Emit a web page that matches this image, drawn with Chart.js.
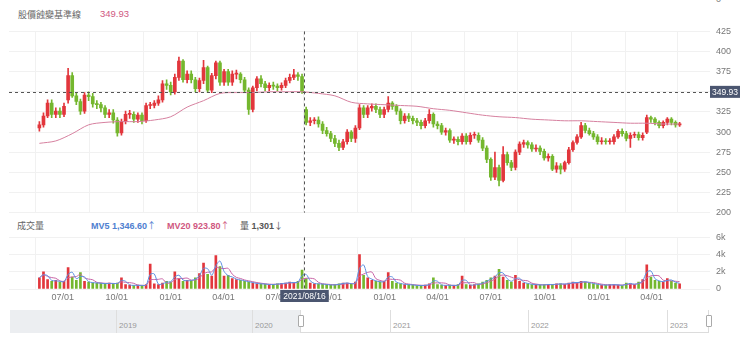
<!DOCTYPE html>
<html>
<head>
<meta charset="utf-8">
<script src="https://cdn.jsdelivr.net/npm/chart.js@4.4.1/dist/chart.umd.min.js"></script>
<style>
  body { margin: 0; background: #fff; font-family: "Liberation Sans", Arial, "Noto Sans CJK TC", sans-serif; }
  #wrap { position: relative; width: 740px; height: 348px; overflow: hidden; }
  .abs { position: absolute; white-space: nowrap; }
  canvas { position: absolute; left: 0; }
  .cjk { font-family: "Noto Sans CJK TC", sans-serif; }
</style>
</head>
<body>
<div id="wrap">
  <div class="abs cjk" style="left:18px;top:8px;font-size:9px;color:#666;">股價蝕變基準線</div>
  <div class="abs" style="left:100px;top:8px;font-size:9.5px;color:#d0587f;">349.93</div>
  <div class="abs" style="left:716px;top:-6px;font-size:9px;color:#777;">0</div>

  <div class="abs cjk" style="left:17px;top:219px;font-size:9px;color:#666;">成交量</div>
  <div class="abs" style="left:91px;top:219px;font-size:9px;color:#4f80d0;font-weight:bold;">MV5 1,346.60<span class="cjk" style="font-weight:normal">↑</span></div>
  <div class="abs" style="left:167px;top:219px;font-size:9px;color:#d0587f;font-weight:bold;">MV20 923.80<span class="cjk" style="font-weight:normal">↑</span></div>
  <div class="abs" style="left:240px;top:219px;font-size:9px;color:#555;font-weight:bold;"><span class="cjk" style="font-weight:normal">量</span> 1,301<span class="cjk" style="font-weight:normal">↓</span></div>

  <canvas id="priceChart" width="740" height="204" style="top:20px"></canvas>
  <canvas id="volChart" width="740" height="79" style="top:226px"></canvas>

  <div id="nav"></div>
</div>

<script>
// weekly candles, first week starting 2020-05-22
const startDate = '2020-05-22';
const opens = [
  305,309,320,336,322,326,322,340,370,345,
  338,326,346,344,335,334,330,322,324,315,
  299,313,322,322,316,321,314,333,333,336,
  340,360,358,350,368,388,365,372,365,354,
  364,380,352,370,386,362,375,362,372,372,
  365,352,328,355,366,360,355,358,357,355,
  358,364,368,371,369,328,312,314,315,310,
  302,298,292,286,281,288,300,292,305,330,
  322,330,332,328,322,328,336,332,326,314,
  320,317,314,312,308,314,322,310,308,300,
  302,290,291,288,295,288,296,296,290,280,
  266,244,256,240,272,262,256,275,285,287,
  284,279,280,276,268,270,254,258,254,262,
  278,287,294,308,302,298,294,288,289,288,
  288,294,301,298,292,296,297,293,300,318,
  316,312,308,312,316,312,309
];
const highs = [
  313,324,340,340,330,330,336,379,374,349,
  341,349,350,348,339,337,333,328,328,318,
  316,326,327,325,324,324,336,337,339,345,
  364,365,362,372,393,390,376,376,368,367,
  389,382,373,388,388,378,378,376,377,374,
  368,355,357,369,370,363,361,362,360,361,
  367,372,378,374,372,331,318,318,319,313,
  306,301,296,290,291,303,302,308,334,333,
  333,335,335,331,331,344,338,334,329,323,
  323,320,317,315,317,328,324,313,311,305,
  304,294,294,298,298,299,300,299,293,283,
  268,275,259,282,275,265,278,288,290,289,
  287,284,283,279,273,272,262,261,264,281,
  289,297,312,311,305,301,297,293,292,292,
  297,303,304,301,299,300,300,299,321,320,
  318,314,314,318,318,314,312
];
const lows = [
  301,306,318,318,318,318,319,336,343,334,
  322,323,339,331,329,325,318,318,311,295,
  296,310,317,312,312,310,312,329,330,333,
  337,353,346,347,364,362,361,361,350,350,
  360,349,349,366,358,358,358,358,366,361,
  349,322,325,351,356,351,351,353,351,352,
  355,361,365,364,348,309,308,310,306,298,
  295,288,282,277,278,285,288,287,303,318,
  318,326,324,318,318,325,328,322,310,311,
  313,310,308,304,305,311,306,304,297,296,
  287,286,284,285,285,285,292,287,277,262,
  240,241,233,238,259,252,253,272,281,280,
  276,276,272,265,264,252,250,248,251,260,
  276,285,292,299,296,291,285,285,285,285,
  285,292,295,289,281,293,290,290,298,312,
  309,305,305,309,309,306,307
];
const closes = [
  309,320,336,322,326,322,332,370,345,338,
  326,346,344,335,334,330,322,324,315,299,
  313,322,322,316,321,314,333,333,336,340,
  360,358,350,368,388,365,372,365,354,364,
  380,352,370,386,362,375,362,372,372,365,
  352,328,355,366,360,355,358,357,355,358,
  364,368,371,369,350,312,314,315,310,302,
  298,292,286,281,288,300,292,305,330,322,
  330,332,328,322,328,336,332,326,314,320,
  317,314,312,308,314,322,310,308,300,302,
  290,291,288,295,288,296,296,290,280,266,
  244,256,240,272,262,256,275,285,287,284,
  279,280,276,268,270,254,258,254,262,278,
  287,294,308,302,298,294,288,289,288,288,
  294,301,298,292,296,297,293,296,318,316,
  312,308,312,316,312,309,310
];
const volumes = [
  1300,2000,1100,900,1000,800,900,2500,1400,1000,
  1900,900,800,700,700,650,600,700,600,700,
  1300,500,450,400,450,400,500,2900,600,500,
  700,900,800,2000,1200,900,1000,1000,1300,1800,
  3000,1700,1500,3900,2600,1500,1600,1200,1100,1000,
  900,800,700,600,600,550,500,550,600,650,
  700,800,700,900,2200,1200,700,600,600,550,
  500,450,500,600,700,700,550,800,4000,1600,
  1300,1000,900,800,900,1900,900,700,600,500,
  500,450,400,400,450,600,1300,500,450,400,
  450,400,500,1500,500,450,500,600,800,1000,
  1300,1500,2300,1400,1000,800,1600,900,700,600,
  500,500,450,500,550,500,600,600,550,700,
  800,700,900,800,700,600,500,450,450,500,
  500,450,400,700,600,500,800,1100,2800,1400,
  1000,900,800,1200,900,700,600
];
// long moving average, one reading every 4 weeks
const maValues = [
  286,289,298,309,312,313,313,315,319,331,
  339,348,349,349,350,350,350,348,345,337,
  335,334,333,332,329,327,324,321,319,318,
  316,315,314,314,313,312,311,311,310,310
];
const tickDates = ['2020-07-01','2020-10-01','2021-01-01','2021-04-01','2021-07-01','2021-10-01',
                   '2022-01-01','2022-04-01','2022-07-01','2022-10-01','2023-01-01','2023-04-01'];
const priceTicks = [200, 225, 250, 275, 300, 325, 350, 375, 400, 425];
const volTicks = [0, 2000, 4000, 6000];
const crossDate = '2021-08-16';
const basePrice = 349.93;
const navYears = ['2019', '2020', '2021', '2022', '2023'];

const UP = '#e2363c', DOWN = '#74b72e';
const dayOf = d => (Date.parse(d) - Date.parse(startDate)) / 864e5;
const tickDays = tickDates.map(dayOf);
const crossDay = dayOf(crossDate);
const colors = closes.map((c, i) => c >= opens[i] ? UP : DOWN);

const movingAvg = (arr, n) => arr.map((v, i) => {
  const part = arr.slice(Math.max(0, i - n + 1), i + 1);
  return part.reduce((a, b) => a + b, 0) / part.length;
});

const xScale = (showLabels) => ({
  type: 'linear', min: -2, max: 1094,
  afterBuildTicks: s => { s.ticks = tickDays.map(v => ({ value: v })); },
  ticks: {
    display: showLabels, autoSkip: false, maxRotation: 0, padding: 3,
    color: '#777', font: { size: 9, family: 'Liberation Sans' },
    callback: (v, i) => tickDates[i].slice(5).replace('-', '/')
  },
  grid: { color: '#f1f1f1', drawTicks: false },
  border: { display: false },
  afterFit: s => { s.height = showLabels ? 16 : 0; }
});

// dashed crosshair + base line
const crosshair = {
  id: 'crosshair',
  afterDatasetsDraw(chart, args, opts) {
    const { ctx, chartArea: a, scales } = chart;
    const x = Math.round(scales.x.getPixelForValue(crossDay)) + 0.5;
    ctx.save();
    ctx.strokeStyle = '#555';
    ctx.lineWidth = 1;
    ctx.setLineDash([3, 3]);
    ctx.beginPath();
    ctx.moveTo(x, a.top);
    ctx.lineTo(x, a.bottom);
    if (opts.base) {
      const y = Math.round(scales.y.getPixelForValue(basePrice)) + 0.5;
      ctx.moveTo(a.left, y);
      ctx.lineTo(a.right, y);
    }
    ctx.stroke();
    ctx.setLineDash([]);
    ctx.font = '8.5px "Liberation Sans"';
    ctx.textBaseline = 'middle';
    if (opts.base) {
      const y = scales.y.getPixelForValue(basePrice);
      const w = ctx.measureText(basePrice.toFixed(2)).width + 4;
      ctx.fillStyle = '#4b5670';
      ctx.fillRect(a.right, y - 6, w, 12);
      ctx.fillStyle = '#fff';
      ctx.textAlign = 'left';
      ctx.fillText(basePrice.toFixed(2), a.right + 2, y + 0.5);
    }
    if (opts.dateLabel) {
      const t = crossDate.replace(/-/g, '/');
      const w = ctx.measureText(t).width + 6;
      ctx.fillStyle = '#4b5670';
      ctx.fillRect(x - w / 2, a.bottom + 1, w, 12);
      ctx.fillStyle = '#fff';
      ctx.textAlign = 'center';
      ctx.fillText(t, x, a.bottom + 7.5);
    }
    ctx.restore();
  }
};

Chart.defaults.animation = false;
Chart.defaults.font.family = '"Liberation Sans", Arial, sans-serif';

new Chart(document.getElementById('priceChart'), {
  data: {
    datasets: [
      {
        type: 'line',
        data: maValues.map((v, k) => ({ x: k * 28, y: v })),
        borderColor: '#d6809f', borderWidth: 1, pointRadius: 0, tension: 0.3, order: 0
      },
      {
        type: 'bar',
        data: closes.map((c, i) => ({ x: i * 7, y: [lows[i], highs[i]] })),
        backgroundColor: colors, barThickness: 1, grouped: false, order: 2
      },
      {
        type: 'bar',
        data: closes.map((c, i) => ({ x: i * 7, y: [opens[i], c] })),
        backgroundColor: colors, barThickness: 3, grouped: false, minBarLength: 1, order: 1
      }
    ]
  },
  options: {
    responsive: false,
    layout: { padding: { left: 9, top: 8, right: 0, bottom: 6 } },
    plugins: { legend: { display: false }, tooltip: { enabled: false }, crosshair: { base: true } },
    scales: {
      x: xScale(false),
      y: {
        position: 'right', min: 200, max: 425,
        afterBuildTicks: s => { s.ticks = priceTicks.map(v => ({ value: v })); },
        ticks: { color: '#777', font: { size: 9 }, padding: 6 },
        grid: { color: '#f1f1f1', drawTicks: false },
        border: { display: false },
        afterFit: s => { s.width = 30; }
      }
    }
  },
  plugins: [crosshair]
});

new Chart(document.getElementById('volChart'), {
  data: {
    datasets: [
      {
        type: 'line', data: movingAvg(volumes, 2).map((v, i) => ({ x: i * 7, y: v })),
        borderColor: '#5b8fe0', borderWidth: 1, pointRadius: 0, tension: 0.3, order: 0
      },
      {
        type: 'line', data: movingAvg(volumes, 4).map((v, i) => ({ x: i * 7, y: v })),
        borderColor: '#c864a6', borderWidth: 1, pointRadius: 0, tension: 0.3, order: 0
      },
      {
        type: 'bar', data: volumes.map((v, i) => ({ x: i * 7, y: v })),
        backgroundColor: colors, barThickness: 2, order: 1
      }
    ]
  },
  options: {
    responsive: false,
    layout: { padding: { left: 9, top: 8, right: 0, bottom: 0 } },
    plugins: { legend: { display: false }, tooltip: { enabled: false }, crosshair: { dateLabel: true } },
    scales: {
      x: xScale(true),
      y: {
        position: 'right', min: 0, max: 6000,
        afterBuildTicks: s => { s.ticks = volTicks.map(v => ({ value: v })); },
        ticks: { color: '#777', font: { size: 9 }, padding: 6, callback: v => v ? v / 1000 + 'k' : '0' },
        grid: { color: '#f1f1f1', drawTicks: false },
        border: { display: false },
        afterFit: s => { s.width = 30; }
      }
    }
  },
  plugins: [crosshair]
});

// range navigator under the chart
const nav = document.getElementById('nav');
const yearX = [116, 252, 390, 528, 667];
let html = '<div class="abs" style="left:10px;top:310px;width:290px;height:23px;background:#eceef1"></div>' +
  '<div class="abs" style="left:300px;top:310px;width:407px;height:22px;border:1px solid #dcdcdc;border-top:none"></div>';
navYears.forEach((y, k) => {
  html += `<div class="abs" style="left:${yearX[k]}px;top:310px;width:1px;height:23px;background:#dedede"></div>`;
  html += `<div class="abs" style="left:${yearX[k] + 3}px;top:321px;font-size:8px;color:#999">${y}</div>`;
});
[298, 706].forEach(x => {
  html += `<div class="abs" style="left:${x}px;top:315px;width:4px;height:10px;background:#fff;border:1px solid #aaa;border-radius:1px"></div>`;
});
nav.innerHTML = html;
</script>
</body>
</html>
